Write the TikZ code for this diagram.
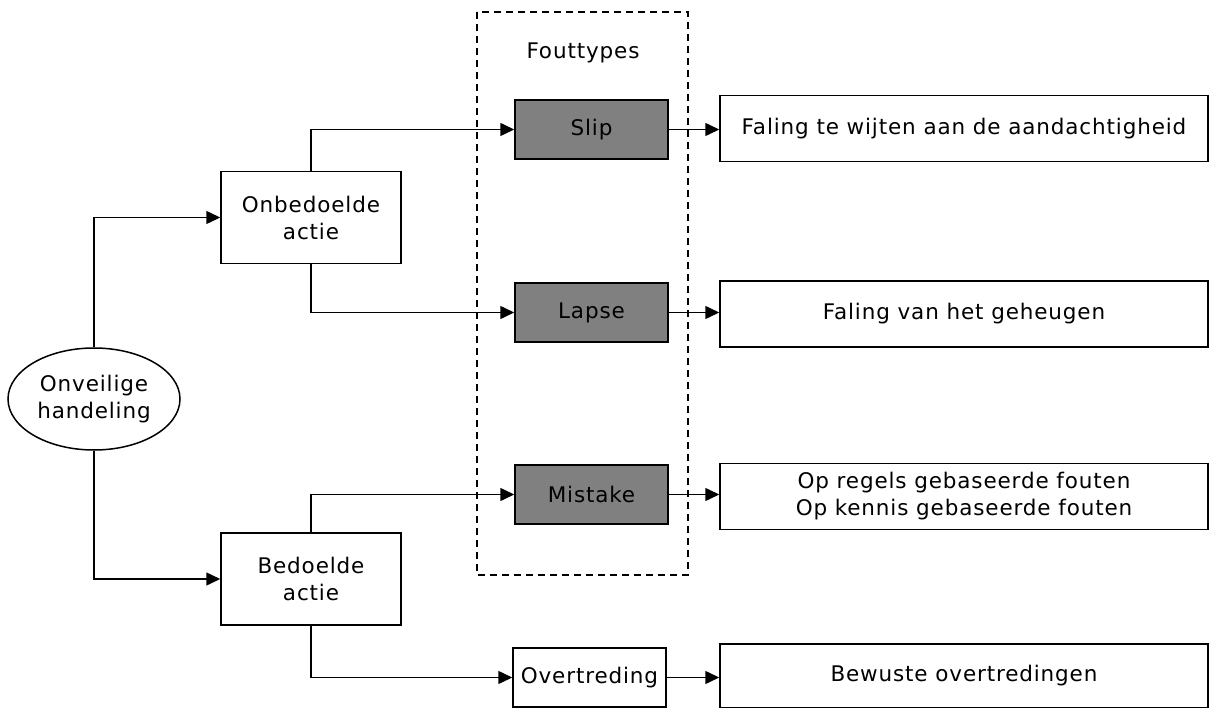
\documentclass[tikz,border=0pt]{standalone}
\usepackage{fontspec}
\setmainfont{DejaVu Sans}[LetterSpace=4]
\usetikzlibrary{shapes.geometric,arrows.meta}

\begin{document}
\begin{tikzpicture}[
    x=1pt, y=-1pt,
    box/.style={draw, line width=1.5pt, align=center, inner sep=0pt,
                font=\fontsize{21.5}{27}\selectfont},
    actie/.style={box, minimum width=180pt, minimum height=92pt},
    fout/.style={box, fill=gray, minimum width=153pt, minimum height=59pt},
    gevolg/.style={box, minimum width=488pt, minimum height=66pt},
    edge/.style={-{Triangle[length=14pt,width=13pt]}, line width=1.5pt}
]
\useasboundingbox (0,0) rectangle (1210,708);

% groep fouttypes
\draw[line width=1.5pt, dash pattern=on 7pt off 5pt] (477,12) rectangle (688,575);
\node[font=\fontsize{21.5}{27}\selectfont] (titel) at (583,53) {Fouttypes};

\node[box, ellipse, minimum width=172pt, minimum height=102pt] (ov) at (94,399) {Onveilige\\handeling};
\node[actie] (ob) at (311,217.5) {Onbedoelde\\actie};
\node[actie] (bd) at (311,579)   {Bedoelde\\actie};

\node[fout] (slip)    at (591.5,129.5) {Slip};
\node[fout] (lapse)   at (591.5,312.5) {Lapse};
\node[fout] (mistake) at (591.5,494.5) {Mistake};
\node[box, minimum width=153pt, minimum height=59pt] (overtr) at (589.5,677.5) {Overtreding};

\node[gevolg] (g1) at (964,128.5) {Faling te wijten aan de aandachtigheid};
\node[gevolg] (g2) at (964,314)   {Faling van het geheugen};
\node[gevolg] (g3) at (964,496.5) {Op regels gebaseerde fouten\\Op kennis gebaseerde fouten};
\node[gevolg, minimum height=64pt] (g4) at (964,676) {Bewuste overtredingen};

\draw[edge] (ov.north) |- (ob.west);
\draw[edge] (ov.south) |- (bd.west);
\draw[edge] (ob.north) |- (slip.west);
\draw[edge] (ob.south) |- (lapse.west);
\draw[edge] (bd.north) |- (mistake.west);
\draw[edge] (bd.south) |- (overtr.west);

\draw[edge] (slip.east)    -- (slip.east -| g1.west);
\draw[edge] (lapse.east)   -- (lapse.east -| g2.west);
\draw[edge] (mistake.east) -- (mistake.east -| g3.west);
\draw[edge] (overtr.east)  -- (overtr.east -| g4.west);

\end{tikzpicture}
\end{document}
